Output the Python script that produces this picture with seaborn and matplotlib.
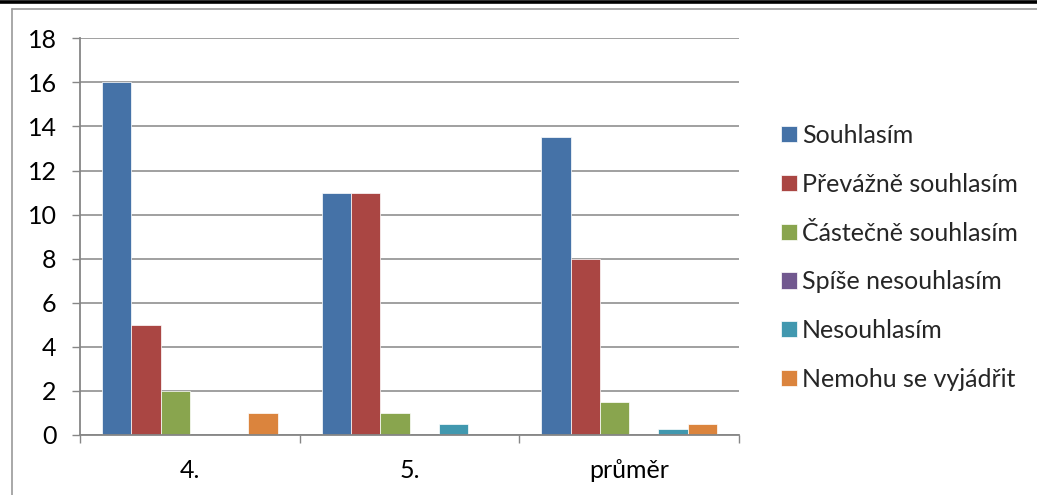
import seaborn as sns
import pandas as pd
import matplotlib.pyplot as plt
from matplotlib.lines import Line2D

# data
categories = ["4.", "5.", "průměr"]
series = ["Souhlasím", "Převážně souhlasím", "Částečně souhlasím",
          "Spíše nesouhlasím", "Nesouhlasím", "Nemohu se vyjádřit"]
souhlasim = [16, 11, 13.5]
prevazne = [5, 11, 8]
castecne = [2, 1, 1.5]
spise_ne = [0, 0, 0]
nesouhlasim = [0, 0.5, 0.25]
nemohu = [1, 0, 0.5]

colors = ["#4572A7", "#AA4643", "#89A54E", "#71588F", "#4198AF", "#DB843D"]

data_dict = {"kategorie": [], "odpoved": [], "hodnota": []}
for name, vals in zip(series, [souhlasim, prevazne, castecne, spise_ne, nesouhlasim, nemohu]):
    data_dict["kategorie"] += categories
    data_dict["odpoved"] += [name] * len(categories)
    data_dict["hodnota"] += vals
df = pd.DataFrame(data_dict)

sns.set_theme(style="white")
plt.rcParams["font.family"] = ["Lato", "DejaVu Sans"]

W, H = 1037, 495
fig = plt.figure(figsize=(W / 100, H / 100), dpi=100)
ax = fig.add_axes([80 / W, 1 - 435 / H, (739 - 80) / W, (435 - 38.3) / H])

sns.barplot(ax=ax, data=df, x="kategorie", y="hodnota", hue="odpoved",
            palette=colors, width=0.8, gap=0, saturation=1,
            edgecolor="white", linewidth=0.5)

grey = "#868686"
fs = 18
ax.set_axisbelow(True)
ax.set_ylim(0, 18)
ax.set_xlim(-0.5, 2.5)
ax.set_yticks(range(0, 19, 2))
ax.yaxis.grid(True, color=grey, linewidth=1.1)
ax.tick_params(axis="y", which="major", length=5.8, width=1, color=grey,
               pad=11, labelsize=fs, left=True, labelcolor="black")

ax.set_xticks([-0.5, 0.5, 1.5, 2.5])
ax.set_xticklabels([])
ax.set_xticks([0, 1, 2], minor=True)
ax.set_xticklabels(categories, minor=True)
ax.tick_params(axis="x", which="major", length=5.8, width=1, color=grey, bottom=True)
ax.tick_params(axis="x", which="minor", length=0, pad=17, labelsize=fs, labelcolor="black")

for side in ["top", "right"]:
    ax.spines[side].set_visible(False)
for side in ["left", "bottom"]:
    ax.spines[side].set_color(grey)
    ax.spines[side].set_linewidth(1.3)
ax.set_xlabel("")
ax.set_ylabel("")

handles, labels = ax.get_legend_handles_labels()
ax.legend(handles, labels, loc="upper left", bbox_to_anchor=(781 / W, 1 - 124 / H),
          bbox_transform=fig.transFigure, frameon=False, fontsize=fs,
          handlelength=0.62, handleheight=0.62, handletextpad=0.22,
          labelspacing=1.03, borderaxespad=0, borderpad=0)

# page borders around the chart
fig.add_artist(Line2D([0, 1], [1 - 1.8 / H, 1 - 1.8 / H], color="black", linewidth=2.6))
fig.add_artist(Line2D([11.5 / W, 1], [1 - 8.5 / H, 1 - 8.5 / H], color="#9a9a9a", linewidth=1.2))
fig.add_artist(Line2D([11.5 / W, 11.5 / W], [0, 1 - 8.5 / H], color="#9a9a9a", linewidth=1.2))

fig.savefig("out.png", dpi=100)
